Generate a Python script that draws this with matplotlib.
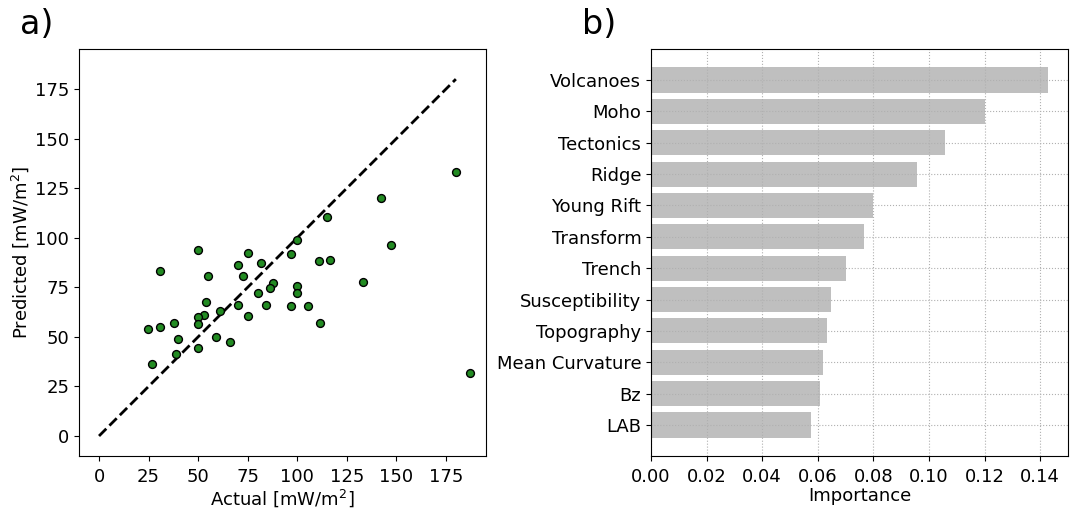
import matplotlib
matplotlib.use('Agg')
import matplotlib.pyplot as plt
import numpy as np

# heat flow: actual vs predicted (mW/m^2)
actual = [180.1, 142.1, 115.0, 100.0, 147.5, 50.0, 75.1, 97.0, 110.8, 116.5,
          81.5, 70.0, 30.6, 54.9, 72.7, 133.0, 87.9, 86.0, 100.0, 100.0,
          80.0, 53.9, 60.9, 70.0, 84.0, 97.0, 105.2, 75.1, 53.0, 50.0,
          50.0, 38.0, 30.8, 24.9, 111.3, 39.9, 58.9, 66.2, 50.0, 38.6,
          26.9, 187.2]
predicted = [133.4, 120.2, 110.4, 98.7, 96.5, 93.8, 92.4, 91.8, 88.2, 88.9,
             87.1, 86.1, 83.0, 80.8, 80.8, 77.8, 77.3, 74.6, 75.8, 72.1,
             72.1, 67.4, 63.2, 65.9, 66.2, 65.7, 65.7, 60.7, 61.0, 60.2,
             56.6, 57.0, 54.8, 53.8, 57.1, 48.7, 49.7, 47.2, 44.2, 41.3,
             36.5, 31.6]
one_to_one = [0, 180]

# feature importances
features = ['Volcanoes', 'Moho', 'Tectonics', 'Ridge', 'Young Rift', 'Transform',
            'Trench', 'Susceptibility', 'Topography', 'Mean Curvature', 'Bz', 'LAB']
importance = [0.1429, 0.1200, 0.1056, 0.0957, 0.0800, 0.0765,
              0.0702, 0.0649, 0.0633, 0.0619, 0.0607, 0.0576]

W, H = 1076, 508
fig = plt.figure(figsize=(W / 100, H / 100), dpi=100)
fs = 13

# a) scatter
ax1 = fig.add_axes([79 / W, 1 - 456 / H, 407 / W, 407 / H])
ax1.plot(one_to_one, one_to_one, 'k--', linewidth=2)
ax1.scatter(actual, predicted, s=32, c='forestgreen', edgecolors='black', linewidths=1, zorder=3)
ax1.set_xlim(-10.1, 195.2)
ax1.set_ylim(-10.1, 195.2)
ax1.set_xticks(np.arange(0, 176, 25))
ax1.set_yticks(np.arange(0, 176, 25))
ax1.set_xlabel('Actual [mW/m$^2$]', fontsize=fs, labelpad=1)
ax1.set_ylabel('Predicted [mW/m$^2$]', fontsize=fs, labelpad=3)
ax1.tick_params(labelsize=fs)
ax1.tick_params(axis='x', pad=5)

# b) feature importance
ax2 = fig.add_axes([651 / W, 1 - 456 / H, 417 / W, 407 / H])
pos = np.arange(len(features))[::-1]
ax2.barh(pos, importance, height=0.8, color='gray', alpha=0.5)
ax2.set_yticks(pos)
ax2.set_yticklabels(features)
ax2.set_xlim(0, 0.15)
ax2.set_xticks(np.arange(0, 0.141, 0.02))
ax2.set_xlabel('Importance', fontsize=fs, labelpad=1)
ax2.tick_params(labelsize=fs)
ax2.tick_params(axis='x', pad=5)
ax2.grid(True, linestyle=':', color='#b0b0b0', linewidth=0.8)

fig.text(20 / W, 1 - 25 / H, 'a)', fontsize=24, va='center', ha='left')
fig.text(582 / W, 1 - 25 / H, 'b)', fontsize=24, va='center', ha='left')

fig.savefig('out.png', dpi=100)
